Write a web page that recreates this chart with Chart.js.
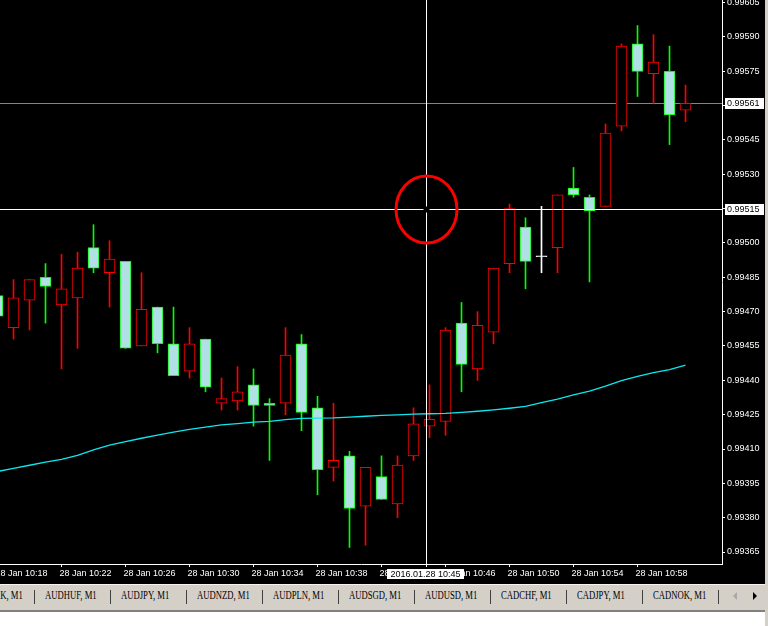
<!DOCTYPE html>
<html><head><meta charset="utf-8">
<script src="https://cdn.jsdelivr.net/npm/chart.js@4.4.1/dist/chart.umd.min.js"></script>
<style>
html,body{margin:0;padding:0;background:#fff;}
#wrap{position:relative;width:768px;height:626px;overflow:hidden;background:#fff;}
#c{position:absolute;left:0;top:0;background:#000;}
#rstrip{position:absolute;left:765px;top:0;width:3px;height:626px;background:#d4d0c8;}
#tabs{position:absolute;left:0;top:584px;width:765px;height:26px;background:#d4d0c8;border-top:1px solid #f4f3ef;box-sizing:border-box;overflow:hidden;}
#tabline{position:absolute;left:0;top:610px;width:765px;height:2px;background:#808080;}
.tab{position:absolute;top:4px;font:12px "Liberation Serif",serif;line-height:12px;color:#000;white-space:nowrap;transform:scaleX(0.72);transform-origin:left center;}
.sep{position:absolute;top:5px;width:1px;height:14px;background:#404040;}
.al{position:absolute;left:733px;top:7px;width:0;height:0;border-top:4px solid transparent;border-bottom:4px solid transparent;border-right:4px solid #a8a8a8;}
.ar{position:absolute;left:753px;top:7px;width:0;height:0;border-top:4px solid transparent;border-bottom:4px solid transparent;border-left:4px solid #000;}
</style>
</head><body>
<div id="wrap">
<canvas id="c" width="765" height="584"></canvas>
<div id="rstrip"></div>
<div id="tabs"></div>
<div id="tabline"></div>
</div>
<script>
// ---- data ----
const dateLabel = '28 Jan';
const times = ['10:18','10:19','10:20','10:21','10:22','10:23','10:24','10:25','10:26','10:27','10:28','10:29','10:30','10:31','10:32','10:33','10:34','10:35','10:36','10:37','10:38','10:39','10:40','10:41','10:42','10:43','10:44','10:45','10:46','10:47','10:48','10:49','10:50','10:51','10:52','10:53','10:54','10:55','10:56','10:57','10:58','10:59','11:00','11:01'];
const opens  = [0.99477,0.99463,0.99475,0.99485,0.99473,0.99476,0.99498,0.99487,0.99492,0.99455,0.99472,0.99456,0.99444,0.99458,0.99430,0.99431,0.99438,0.99430,0.99430,0.99456,0.99428,0.99402,0.99407,0.99385,0.99398,0.99386,0.99407,0.99420,0.99422,0.99465,0.99445,0.99461,0.99491,0.99507,0.99494,0.99498,0.99524,0.99520,0.99516,0.99551,0.99587,0.99574,0.99575,0.99558];
const highs  = [0.99478,0.99484,0.99484,0.99491,0.99495,0.99496,0.99508,0.99501,0.99492,0.99487,0.99472,0.99472,0.99463,0.99458,0.99441,0.99446,0.99445,0.99432,0.99463,0.99460,0.99433,0.99430,0.99409,0.99402,0.99407,0.99407,0.99428,0.99438,0.99463,0.99474,0.99470,0.99489,0.99517,0.99511,0.99516,0.99521,0.99533,0.99521,0.99552,0.99587,0.99595,0.99591,0.99586,0.99569];
const lows   = [0.99466,0.99458,0.99462,0.99465,0.99445,0.99454,0.99487,0.99472,0.99454,0.99455,0.99452,0.99442,0.99441,0.99435,0.99427,0.99427,0.99420,0.99405,0.99425,0.99418,0.99390,0.99396,0.99367,0.99368,0.99388,0.99380,0.99405,0.99415,0.99416,0.99435,0.99440,0.99456,0.99487,0.99480,0.99487,0.99487,0.99520,0.99483,0.99516,0.99549,0.99564,0.99561,0.99543,0.99553];
const closes = [0.99468,0.99476,0.99484,0.99481,0.99480,0.99489,0.99489,0.99493,0.99454,0.99471,0.99456,0.99442,0.99456,0.99437,0.99432,0.99435,0.99429,0.99429,0.99451,0.99426,0.99401,0.99405,0.99384,0.99402,0.99388,0.99403,0.99421,0.99423,0.99462,0.99447,0.99464,0.99489,0.99515,0.99492,0.99494,0.99521,0.99521,0.99514,0.99548,0.99586,0.99575,0.99579,0.99556,0.99561];
const maValues = [0.994002,0.994015,0.994029,0.994043,0.994055,0.994072,0.994096,0.994117,0.994132,0.994147,0.994161,0.994174,0.994186,0.994196,0.994205,0.994211,0.994217,0.994221,0.994228,0.994234,0.994235,0.994236,0.994239,0.994243,0.994247,0.994249,0.994252,0.994254,0.994256,0.994260,0.994265,0.994271,0.994278,0.994286,0.994303,0.994318,0.994336,0.994353,0.994375,0.994399,0.994417,0.994434,0.994447,0.994466];
const priceTicks = [0.99365,0.99380,0.99395,0.99410,0.99425,0.99440,0.99455,0.99470,0.99485,0.99500,0.99515,0.99530,0.99545,0.99560,0.99575,0.99590,0.99605];
const timeTickIndex = [0,4,8,12,16,20,24,28,32,36,40];
const bidPrice = 0.99561;
const crossIndex = 26.75;
const crossPrice = 0.99515;
const crossTimeLabel = '2016.01.28 10:45';
const tabNames = ['AUDDKK, M1','AUDHUF, M1','AUDJPY, M1','AUDNZD, M1','AUDPLN, M1','AUDSGD, M1','AUDUSD, M1','CADCHF, M1','CADJPY, M1','CADNOK, M1'];

// ---- tabs (HTML) ----
const tabs = document.getElementById('tabs');
tabNames.forEach((n, i) => {
  const s = document.createElement('span'); s.className = 'tab'; s.textContent = n;
  s.style.left = (-31 + 76 * i) + 'px'; tabs.appendChild(s);
  const d = document.createElement('div'); d.className = 'sep';
  d.style.left = (34 + 76 * i) + 'px'; tabs.appendChild(d);
});
const al = document.createElement('div'); al.className = 'al'; tabs.appendChild(al);
const ar = document.createElement('div'); ar.className = 'ar'; tabs.appendChild(ar);

// ---- chart ----
const RED = '#ff0000', GREEN = '#00ff00', BODY = '#b0e0e6', WHITE = '#ffffff';
const dir = times.map((t, i) => closes[i] > opens[i] ? 1 : (closes[i] < opens[i] ? -1 : 0));
const lineCol = dir.map(d => d > 0 ? RED : (d < 0 ? GREEN : WHITE));
const fillCol = dir.map(d => d > 0 ? '#000000' : (d < 0 ? BODY : WHITE));

const FONT = {family: '"Liberation Sans", Arial, sans-serif', size: 9};
Chart.defaults.font.family = FONT.family;
Chart.defaults.font.size = 9;

const overlay = {
  id: 'overlay',
  beforeDatasetsDraw(chart) {
    const {ctx, chartArea: a, scales: {x, y}} = chart;
    const yy = Math.round(y.getPixelForValue(bidPrice)) + 0.5;
    ctx.save();
    ctx.strokeStyle = '#778899'; ctx.lineWidth = 1;
    ctx.beginPath(); ctx.moveTo(a.left, yy); ctx.lineTo(a.right, yy); ctx.stroke();
    ctx.restore();
  },
  afterDraw(chart) {
    const {ctx, chartArea: a, scales: {x, y}} = chart;
    const cx = Math.round(x.getPixelForValue(crossIndex)) + 0.5;
    const cy = Math.round(y.getPixelForValue(crossPrice)) + 0.5;
    ctx.save();
    ctx.strokeStyle = WHITE; ctx.lineWidth = 1;
    ctx.beginPath();
    ctx.moveTo(cx, a.top); ctx.lineTo(cx, cy - 3);
    ctx.moveTo(cx, cy + 3); ctx.lineTo(cx, a.bottom + 3);
    ctx.moveTo(a.left, cy); ctx.lineTo(cx - 3, cy);
    ctx.moveTo(cx + 3, cy); ctx.lineTo(a.right, cy);
    ctx.stroke();
    ctx.strokeStyle = '#ff0000'; ctx.lineWidth = 3;
    ctx.beginPath(); ctx.ellipse(cx, cy, 30.5, 33.5, 0, 0, Math.PI * 2); ctx.stroke();
    ctx.font = '9px "Liberation Sans", Arial, sans-serif';
    ctx.textBaseline = 'middle';
    const box = (val) => {
      const py = Math.round(y.getPixelForValue(val));
      ctx.fillStyle = WHITE; ctx.fillRect(a.right + 3, py - 5, 39, 11);
      ctx.fillStyle = '#000'; ctx.textAlign = 'left';
      ctx.fillText(val.toFixed(5), a.right + 5, py + 0.5);
    };
    box(bidPrice); box(crossPrice);
    ctx.fillStyle = WHITE; ctx.fillRect(cx - 39.5, a.bottom + 5, 77, 10);
    ctx.fillStyle = '#000'; ctx.textAlign = 'center';
    ctx.fillText(crossTimeLabel, cx - 1, a.bottom + 10.5);
    ctx.restore();
  }
};

new Chart(document.getElementById('c'), {
  type: 'bar',
  data: {
    datasets: [
      {type: 'line', order: 0, data: maValues.map((v, i) => ({x: i, y: v})),
       borderColor: '#10e6ee', borderWidth: 1.3, pointRadius: 0, tension: 0, fill: false},
      {type: 'bar', order: 1, data: times.map((t, i) => ({x: i, y: [opens[i], closes[i]]})),
       backgroundColor: fillCol, borderColor: lineCol, borderWidth: 1, borderSkipped: false,
       barThickness: 11, minBarLength: 1, grouped: false},
      {type: 'bar', order: 2, data: times.map((t, i) => ({x: i, y: [lows[i], highs[i]]})),
       backgroundColor: lineCol, borderWidth: 0, barThickness: 1, grouped: false}
    ]
  },
  options: {
    responsive: false, animation: false, devicePixelRatio: 1,
    layout: {padding: 0},
    plugins: {legend: {display: false}, tooltip: {enabled: false}},
    scales: {
      x: {
        type: 'linear', position: 'bottom', offset: false,
        min: 0.15625, max: 0.15625 + 722 / 16,
        grid: {display: true, offset: false, drawOnChartArea: false, drawTicks: true, tickLength: 3, color: WHITE, lineWidth: 1},
        border: {display: true, color: WHITE, width: 1},
        ticks: {color: WHITE, font: FONT, align: 'start', padding: 1, maxRotation: 0, autoSkip: false, labelOffset: -2,
                callback: (v) => dateLabel + ' ' + times[v]},
        afterBuildTicks: (s) => { s.ticks = timeTickIndex.map(v => ({value: v})); },
        afterFit: (s) => { s.height = 20; s.paddingLeft = 0; s.paddingRight = 0; }
      },
      y: {
        type: 'linear', position: 'right',
        min: 0.9935976, max: 0.9960616,
        grid: {display: true, drawOnChartArea: false, drawTicks: true, tickLength: 3, color: WHITE, lineWidth: 1},
        border: {display: true, color: WHITE, width: 1},
        ticks: {color: WHITE, font: FONT, padding: 2, autoSkip: false, callback: (v) => v.toFixed(5)},
        afterBuildTicks: (s) => { s.ticks = priceTicks.map(v => ({value: v})); },
        afterFit: (s) => { s.width = 43; s.paddingTop = 0; s.paddingBottom = 0; }
      }
    }
  },
  plugins: [overlay]
});
</script>
</body></html>
